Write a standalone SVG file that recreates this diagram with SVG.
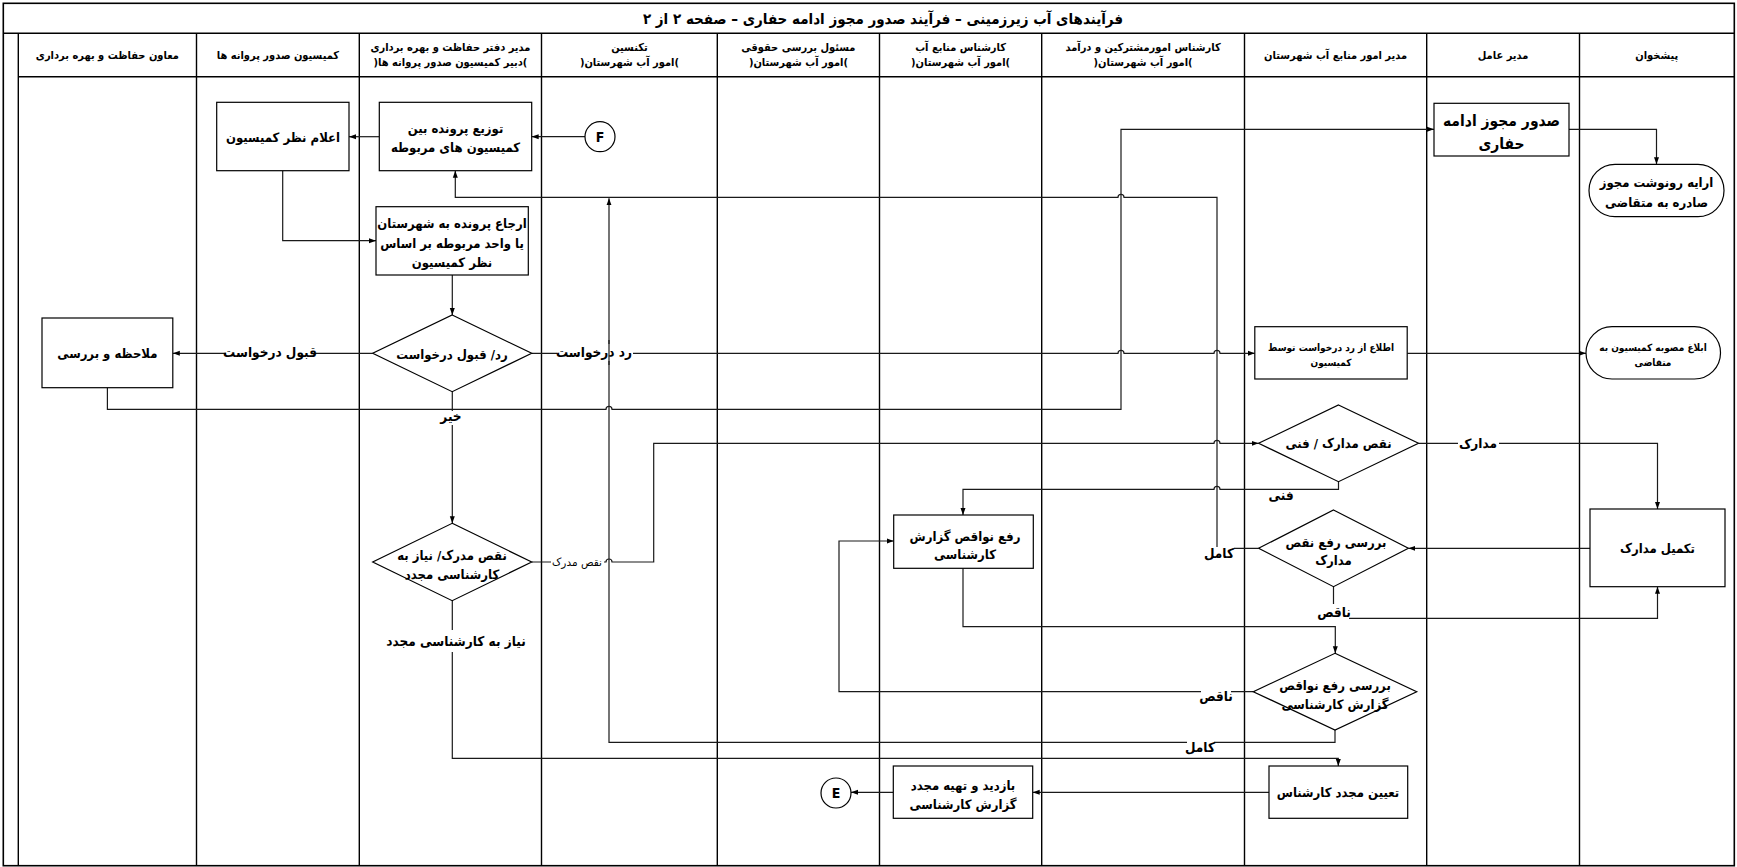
<svg xmlns="http://www.w3.org/2000/svg" width="1737" height="867" viewBox="0 0 1737 867">
<style>
.frame{fill:none;stroke:#000;stroke-width:1.6}
.ln{stroke:#000;stroke-width:1.4;fill:none}
.box{fill:#fff;stroke:#000;stroke-width:1.2}
.c{fill:none;stroke:#1a1a1a;stroke-width:1.2}
.ca{fill:none;stroke:#1a1a1a;stroke-width:1.2;marker-end:url(#ah)}
.bg{fill:#fff;stroke:none}
text{font-family:"DejaVu Sans Condensed","DejaVu Sans",sans-serif;fill:#000;text-anchor:middle}
.title{font-size:15px;font-weight:bold}
.h{font-size:11px;font-weight:bold}
.t{font-size:13px;font-weight:bold}
.tb{font-size:15.5px;font-weight:bold}
.s{font-size:10px;font-weight:bold}
.l{font-size:13.5px;font-weight:bold}
.ls{font-family:"DejaVu Sans",sans-serif;font-size:10.5px}
</style>
<defs>
<marker id="ah" markerUnits="userSpaceOnUse" markerWidth="7" markerHeight="6" refX="7" refY="3" orient="auto">
<path d="M0,0.5 L7,3 L0,5.5 z" fill="#000"/>
</marker>
</defs>
<rect width="1737" height="867" fill="#fff"/>
<g id="frame">
<rect class="frame" x="3.3" y="3.3" width="1731" height="862.4"/>
<line class="ln" x1="3.3" y1="33.3" x2="1734.3" y2="33.3"/>
<line class="ln" x1="18.3" y1="76.7" x2="1734.3" y2="76.7"/>
<line class="ln" x1="18.3" y1="33.3" x2="18.3" y2="866"/>
<line class="ln" x1="196.5" y1="33.3" x2="196.5" y2="866"/>
<line class="ln" x1="359.3" y1="33.3" x2="359.3" y2="866"/>
<line class="ln" x1="541.5" y1="33.3" x2="541.5" y2="866"/>
<line class="ln" x1="717.3" y1="33.3" x2="717.3" y2="866"/>
<line class="ln" x1="879.5" y1="33.3" x2="879.5" y2="866"/>
<line class="ln" x1="1041.7" y1="33.3" x2="1041.7" y2="866"/>
<line class="ln" x1="1244.5" y1="33.3" x2="1244.5" y2="866"/>
<line class="ln" x1="1426.7" y1="33.3" x2="1426.7" y2="866"/>
<line class="ln" x1="1579.5" y1="33.3" x2="1579.5" y2="866"/>
<text class="title" x="883" y="24" direction="rtl">فرآیندهای آب زیرزمینی – فرآیند صدور مجوز ادامه حفاری – صفحه ۲ از ۲</text>
</g>
<g id="headers">
<text class="h" x="107.4" y="59" direction="rtl">معاون حفاظت و بهره برداری</text>
<text class="h" x="277.9" y="59" direction="rtl">کمیسیون صدور پروانه ها</text>
<text class="h" x="450.4" y="51" direction="rtl">مدیر دفتر حفاظت و بهره برداری</text>
<text class="h" x="450.4" y="66" direction="rtl">)دبیر کمیسیون صدور پروانه ها(</text>
<text class="h" x="629.4" y="51" direction="rtl">تکنسین</text>
<text class="h" x="629.4" y="66" direction="rtl">)امور آب شهرستان(</text>
<text class="h" x="798.4" y="51" direction="rtl">مسئول بررسی حقوقی</text>
<text class="h" x="798.4" y="66" direction="rtl">)امور آب شهرستان(</text>
<text class="h" x="960.6" y="51" direction="rtl">کارشناس منابع آب</text>
<text class="h" x="960.6" y="66" direction="rtl">)امور آب شهرستان(</text>
<text class="h" x="1143.1" y="51" direction="rtl">کارشناس امورمشترکین و درآمد</text>
<text class="h" x="1143.1" y="66" direction="rtl">)امور آب شهرستان(</text>
<text class="h" x="1335.6" y="59" direction="rtl">مدیر امور منابع آب شهرستان</text>
<text class="h" x="1503.1" y="59" direction="rtl">مدیر عامل</text>
<text class="h" x="1656.8" y="59" direction="rtl">پیشخوان</text>
</g>
<g id="connectors">
<path class="ca" d="M585,136.7 H531.7"/>
<path class="ca" d="M379.3,136.7 H349"/>
<path class="ca" d="M282.7,170.7 V240.7 H376"/>
<path class="ca" d="M452.3,275 V315"/>
<path class="ca" d="M372.7,353.3 H172.8"/>
<path class="ca" d="M531.7,353.3 H1118 a3,3 0 0 1 6,0 H1214 a3,3 0 0 1 6,0 H1254.8"/>
<path class="ca" d="M452.3,391.7 V523.3"/>
<path class="ca" d="M107.4,387.7 V409.3 H606 a3,3 0 0 1 6,0 H1121 V129.3 H1434"/>
<path class="ca" d="M531.7,562 H606 a3,3 0 0 1 6,0 H653.7 V443.3 H1214 a3,3 0 0 1 6,0 H1258.6"/>
<path class="ca" d="M452.3,600.7 V758.3 H1338.3 V766"/>
<path class="ca" d="M1418.5,443.3 H1657.5 V509"/>
<path class="ca" d="M1338.5,481.7 V489.3 H1220 a3,3 0 0 0 -6,0 H963 V515"/>
<path class="ca" d="M1590,548.3 H1408.4"/>
<path class="ca" d="M1258.6,548.3 H1217 V197.3 H1124 a3,3 0 0 0 -6,0 H455.3 V170.7"/>
<path class="ca" d="M1333.5,586.7 V618.3 H1657.5 V586.7"/>
<path class="ca" d="M963,568.3 V626.7 H1335.3 V653.3"/>
<path class="ca" d="M1253.3,691.7 H839 V541 H893.7"/>
<path class="ca" d="M1335,730 V742.3 H609 V198.3"/>
<path class="ca" d="M1269,792.3 H1032.7"/>
<path class="ca" d="M893.3,792.3 H851"/>
<path class="ca" d="M1569,129.3 H1656.5 V164.3"/>
<path class="ca" d="M1407.2,353.3 H1586"/>
<rect class="bg" x="226" y="344" width="89" height="17"/>
<text class="l" x="270" y="357" direction="rtl">قبول درخواست</text>
<rect class="bg" x="557" y="344" width="76" height="17"/>
<text class="l" x="594" y="357" direction="rtl">رد درخواست</text>
<line class="c" x1="609" y1="340" x2="609" y2="365"/>
<rect class="bg" x="440" y="411" width="24" height="14"/>
<text class="l" x="451" y="421" direction="rtl">خیر</text>
<rect class="bg" x="551" y="556" width="53" height="13"/>
<text class="ls" x="577" y="566" direction="rtl">نقص مدرک</text>
<rect class="bg" x="390" y="630" width="133" height="22"/>
<text class="l" x="456" y="646" direction="rtl">نیاز به کارشناسی مجدد</text>
<rect class="bg" x="1458" y="436" width="41" height="15"/>
<text class="l" x="1478" y="448" direction="rtl">مدارک</text>
<rect class="bg" x="1269" y="491" width="24" height="12"/>
<text class="l" x="1281" y="500" direction="rtl">فنی</text>
<rect class="bg" x="1205" y="547" width="29" height="14"/>
<text class="l" x="1219" y="558" direction="rtl">کامل</text>
<rect class="bg" x="1320" y="604" width="29" height="16"/>
<text class="l" x="1334" y="617" direction="rtl">ناقص</text>
<rect class="bg" x="1201" y="690" width="30" height="14"/>
<text class="l" x="1216" y="701" direction="rtl">ناقص</text>
<rect class="bg" x="1187" y="741" width="27" height="14"/>
<text class="l" x="1200" y="752" direction="rtl">کامل</text>
</g>
<g id="n-elam">
<rect class="box" x="216.7" y="102.3" width="132.3" height="68.4"/>
<text class="t" x="283" y="142" direction="rtl">اعلام نظر کمیسیون</text>
</g>
<g id="n-tozi">
<rect class="box" x="379.3" y="102.3" width="152.4" height="68.4"/>
<text class="t" x="455.5" y="133" direction="rtl">توزیع پرونده بین</text>
<text class="t" x="455.5" y="152" direction="rtl">کمیسیون های مربوطه</text>
</g>
<g id="n-F">
<circle class="box" cx="600" cy="136.7" r="15"/>
<text class="t" x="600" y="141.5" style="font-size:14px">F</text>
</g>
<g id="n-erja">
<rect class="box" x="376" y="206.7" width="152.3" height="68.3"/>
<text class="t" x="452" y="228" direction="rtl">ارجاع پرونده به شهرستان</text>
<text class="t" x="452" y="248" direction="rtl">یا واحد مربوطه بر اساس</text>
<text class="t" x="452" y="267" direction="rtl">نظر کمیسیون</text>
</g>
<g id="d-radghabul">
<polygon class="box" points="452.2,315 531.7,353.3 452.2,391.7 372.7,353.3"/>
<text class="t" x="452" y="359" direction="rtl">رد/ قبول درخواست</text>
</g>
<g id="n-molahezeh">
<rect class="box" x="42" y="318" width="130.8" height="69.7"/>
<text class="t" x="107.4" y="358" direction="rtl">ملاحظه و بررسی</text>
</g>
<g id="n-sodur">
<rect class="box" x="1434" y="103.3" width="135" height="52.7"/>
<text class="tb" x="1501.5" y="126" direction="rtl">صدور مجوز ادامه</text>
<text class="tb" x="1501.5" y="149" direction="rtl">حفاری</text>
</g>
<g id="n-eraeh">
<rect class="box" x="1589" y="164.3" width="135" height="52.4" rx="26" ry="26"/>
<text class="t" x="1656.5" y="187" direction="rtl">ارایه رونوشت مجوز</text>
<text class="t" x="1656.5" y="207" direction="rtl">صادره به متقاضی</text>
</g>
<g id="n-ettela">
<rect class="box" x="1254.8" y="326.7" width="152.4" height="52.3"/>
<text class="s" x="1331" y="350.5" direction="rtl">اطلاع از رد درخواست توسط</text>
<text class="s" x="1331" y="366" direction="rtl">کمیسیون</text>
</g>
<g id="n-eblagh">
<rect class="box" x="1586" y="326.7" width="134.5" height="52.3" rx="26" ry="26"/>
<text class="s" x="1653" y="350.5" direction="rtl">ابلاغ مصوبه کمیسیون به</text>
<text class="s" x="1653" y="366" direction="rtl">متقاضی</text>
</g>
<g id="d-naghsfanni">
<polygon class="box" points="1338.5,405 1418.5,443.3 1338.5,481.7 1258.6,443.3"/>
<text class="t" x="1338.5" y="448" direction="rtl">نقص مدارک / فنی</text>
</g>
<g id="d-barrasi-madarek">
<polygon class="box" points="1333.5,510 1408.4,548.3 1333.5,586.7 1258.6,548.3"/>
<text class="t" x="1336" y="547" direction="rtl">بررسی رفع نقص</text>
<text class="t" x="1333.5" y="565" direction="rtl">مدارک</text>
</g>
<g id="n-takmil">
<rect class="box" x="1590" y="509" width="135" height="77.7"/>
<text class="t" x="1657.5" y="553" direction="rtl">تکمیل مدارک</text>
</g>
<g id="n-rafe">
<rect class="box" x="893.7" y="515" width="139.6" height="53.3"/>
<text class="t" x="965" y="541" direction="rtl">رفع نواقص گزارش</text>
<text class="t" x="965" y="559" direction="rtl">کارشناسی</text>
</g>
<g id="d-niaz">
<polygon class="box" points="452.2,523.3 531.7,562 452.2,600.7 372.7,562"/>
<text class="t" x="452" y="560" direction="rtl">نقص مدرک/ نیاز به</text>
<text class="t" x="452" y="578.5" direction="rtl">کارشناسی مجدد</text>
</g>
<g id="d-barrasi-gozaresh">
<polygon class="box" points="1335,653.3 1416.7,691.7 1335,730 1253.3,691.7"/>
<text class="t" x="1335" y="690" direction="rtl">بررسی رفع نواقص</text>
<text class="t" x="1335" y="708.5" direction="rtl">گزارش کارشناسی</text>
</g>
<g id="n-tayin">
<rect class="box" x="1269" y="766" width="138.7" height="52.3"/>
<text class="t" x="1338" y="797" direction="rtl">تعیین مجدد کارشناس</text>
</g>
<g id="n-bazdid">
<rect class="box" x="893.3" y="766" width="139.4" height="52.3"/>
<text class="t" x="963" y="790" direction="rtl">بازدید و تهیه مجدد</text>
<text class="t" x="963" y="809" direction="rtl">گزارش کارشناسی</text>
</g>
<g id="n-E">
<circle class="box" cx="836" cy="793" r="15"/>
<text class="t" x="836" y="798" style="font-size:14px">E</text>
</g>
</svg>
